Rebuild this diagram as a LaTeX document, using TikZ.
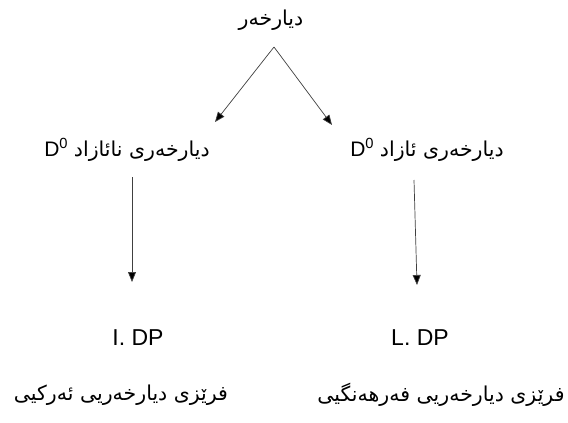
\documentclass[tikz,border=0pt]{standalone}
\usepackage{fontspec}
\setmainfont{Liberation Sans}
\newfontfamily\ku[Script=Arabic]{DejaVu Sans}
\TeXXeTstate=1
\usetikzlibrary{arrows.meta}
\newcommand{\kutext}[1]{{\ku\fontsize{20.5}{24}\selectfont\beginR #1\endR}}
\begin{document}
\begin{tikzpicture}[x=1pt,y=-1pt,
  lbl/.style={inner sep=0pt,font=\fontsize{21}{24}\selectfont},
  big/.style={inner sep=0pt,font=\fontsize{23}{26}\selectfont},
  arr/.style={draw=black!75,line width=0.7pt,-{Triangle[length=10pt,width=8pt,fill=black]}}]
\useasboundingbox[fill=white] (0,0) rectangle (568,423);
\node[lbl] (top) at (271,20) {\kutext{دیارخەر}};
\node[lbl] (lm) at (127,150) {D\textsuperscript{0}\ \kutext{دیارخەری نائازاد}};
\node[lbl] (rm) at (427,150) {D\textsuperscript{0}\ \kutext{دیارخەری ئازاد}};
\node[big] (ldp) at (138,338) {I. DP};
\node[big] (rdp) at (420,338) {L. DP};
\node[lbl] (lb) at (121,395) {\kutext{فرێزی دیارخەریی ئەرکیی}};
\node[lbl] (rb) at (441,395) {\kutext{فرێزی دیارخەریی فەرهەنگیی}};
\coordinate (apex) at (274,47);
\coordinate (lt) at (215,122);
\coordinate (rt) at (332,125);
\coordinate (ls) at (132,177);
\coordinate (le) at (132,282);
\coordinate (rs) at (414,180);
\coordinate (re) at (417,285);
\draw[arr] (apex) -- (lt);
\draw[arr] (apex) -- (rt);
\draw[arr] (ls) -- (le);
\draw[arr] (rs) -- (re);
\end{tikzpicture}
\end{document}
